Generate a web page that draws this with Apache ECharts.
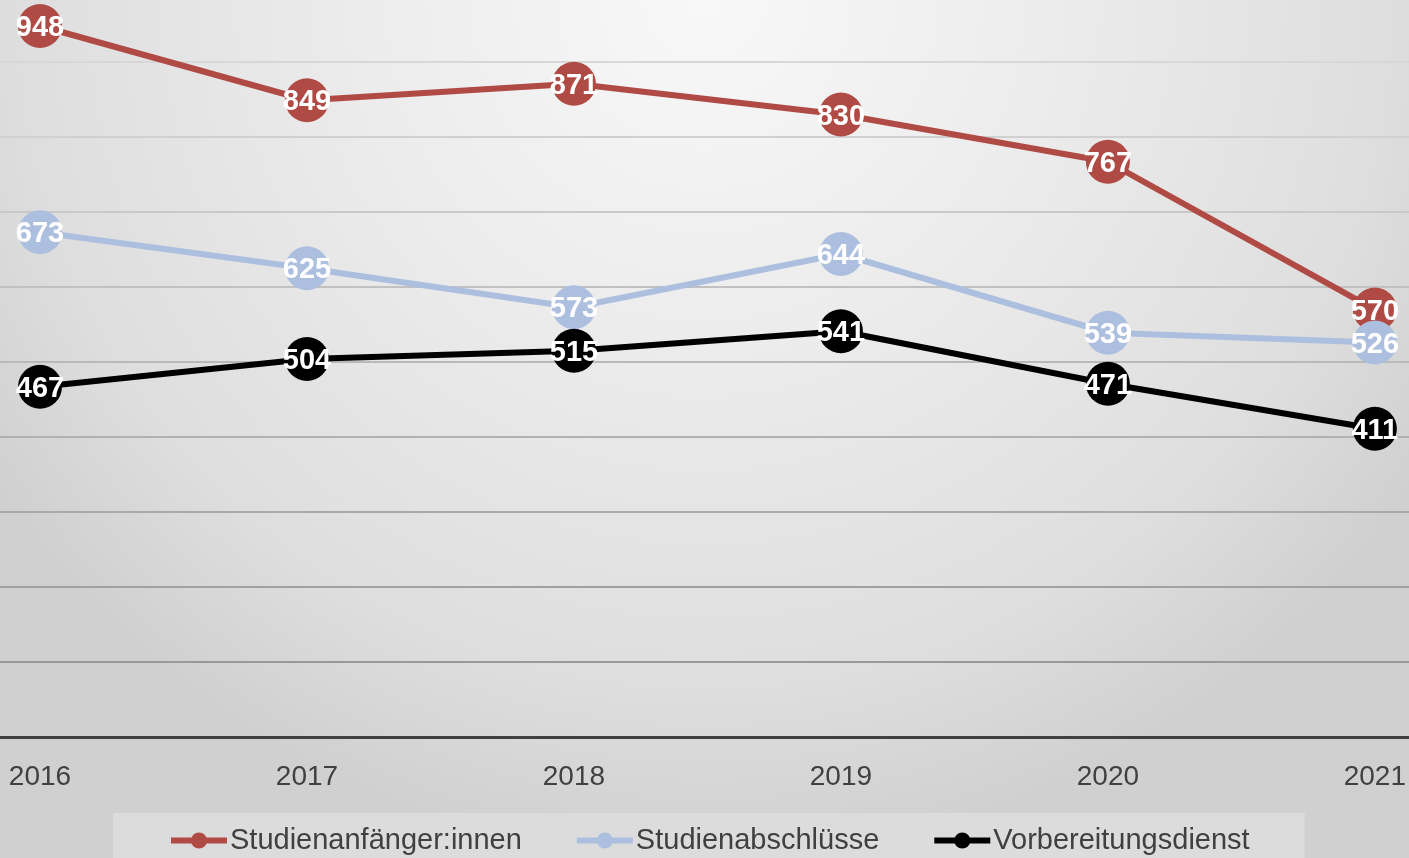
<!DOCTYPE html>
<html>
<head>
<meta charset="utf-8">
<script src="https://cdn.jsdelivr.net/npm/echarts@6/dist/echarts.min.js"></script>
<style>
html,body{margin:0;padding:0;}
#c{width:1409px;height:858px;}
</style>
</head>
<body>
<div id="c"></div>
<script>
const years = ['2016','2017','2018','2019','2020','2021'];
const anfaenger = [948, 849, 871, 830, 767, 570];
const abschluesse = [673, 625, 573, 644, 539, 526];
const vorbereitung = [467, 504, 515, 541, 471, 411];
const seriesNames = ['Studienanfänger:innen','Studienabschlüsse','Vorbereitungsdienst'];
const colors = ['#b04a44','#adbfdf','#000000'];

const chart = echarts.init(document.getElementById('c'));
const FONT = '"Liberation Sans", Arial, sans-serif';
const Y_MAX = 982.67;

function mk(name, data, color){
  return {
    name: name, type: 'line', data: data,
    xAxisIndex: 1, yAxisIndex: 1,
    symbol: 'circle', symbolSize: 44, clip: false,
    lineStyle: {color: color, width: 6},
    itemStyle: {color: color},
    label: {show: true, position: 'inside', color: '#fff', fontWeight: 'bold',
            fontSize: 29, fontFamily: FONT, offset:[0,2]},
    emphasis: {disabled: true},
    animation: false
  };
}

const gridColors = ['#909090','#999999','#a1a1a1','#a9a9a9','#b1b1b1','#b9b9b9',
                    '#c1c1c1','#c9c9c9','#d0d0d0','#d7d7d7','rgba(0,0,0,0)'];

chart.setOption({
  backgroundColor: new echarts.graphic.RadialGradient(0.5, 0, 1, [
    {offset:0, color:'#f8f8f8'},{offset:0.4, color:'#ececec'},
    {offset:0.8, color:'#dedede'},{offset:1, color:'#d0d0d0'}]),
  textStyle: {fontFamily: FONT},
  grid: [
    {left: 0, right: 0, top: 0, bottom: 121},
    {left: 40, right: 31, top: 0, bottom: 121}
  ],
  xAxis: [
    {type: 'category', gridIndex: 0, data: years, boundaryGap: true,
     axisLine: {lineStyle: {color: '#404040', width: 3}},
     axisTick: {show: false}, axisLabel: {show: false}},
    {type: 'category', gridIndex: 1, data: years, boundaryGap: false,
     axisLine: {show: false}, axisTick: {show: false},
     axisLabel: {color: '#404040', fontSize: 28, margin: 26, fontFamily: FONT}}
  ],
  yAxis: [
    {type: 'value', gridIndex: 0, min: 0, max: Y_MAX, interval: 100,
     axisLabel: {show: false}, axisLine: {show: false}, axisTick: {show: false},
     splitLine: {lineStyle: {color: gridColors, width: 2}}},
    {type: 'value', gridIndex: 1, min: 0, max: Y_MAX, interval: 100,
     axisLabel: {show: false}, axisLine: {show: false}, axisTick: {show: false},
     splitLine: {show: false}}
  ],
  legend: {
    data: seriesNames,
    left: 113, top: 813,
    padding: [13, 55, 20, 55],
    backgroundColor: '#dcdcdc',
    itemWidth: 56, itemHeight: 20, itemGap: 52,
    lineStyle: {width: 6},
    textStyle: {color: '#404040', fontSize: 29, fontFamily: FONT, padding:[0,0,0,-2]}
  },
  series: [mk(seriesNames[0], anfaenger, colors[0]),
           mk(seriesNames[1], abschluesse, colors[1]),
           mk(seriesNames[2], vorbereitung, colors[2])]
});
</script>
</body>
</html>
